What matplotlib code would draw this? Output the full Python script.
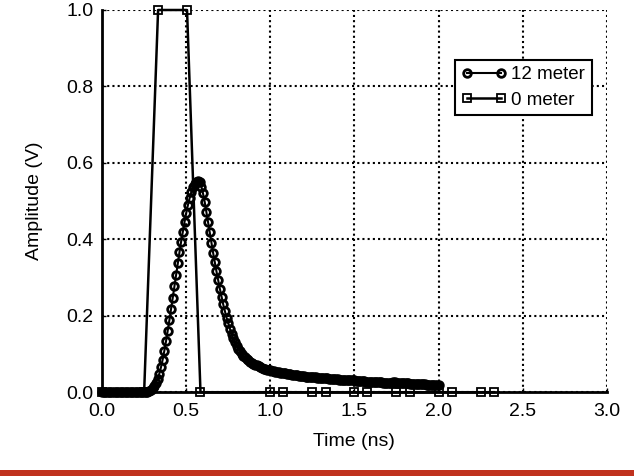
import matplotlib.pyplot as plt
import numpy as np
from matplotlib.patches import Rectangle

plt.rcParams['font.family'] = ['Liberation Sans', 'DejaVu Sans']

# 12 meter, sampled every 0.01 ns from 0 to 2.0 ns
t_12m = np.round(np.arange(201) * 0.01, 2)
v_12m = [0.0] * 25 + [
    0.000, 0.000, 0.001, 0.003, 0.006, 0.010, 0.016, 0.024, 0.034, 0.048,   # 0.25-0.34
    0.065, 0.085, 0.108, 0.133, 0.160, 0.188, 0.217, 0.247, 0.277, 0.307,   # 0.35-0.44
    0.337, 0.366, 0.394, 0.420, 0.445, 0.468, 0.489, 0.507, 0.523, 0.536,   # 0.45-0.54
    0.545, 0.551, 0.553, 0.549, 0.538, 0.520, 0.498, 0.472, 0.445, 0.418,   # 0.55-0.64
    0.391, 0.365, 0.340, 0.316, 0.293, 0.271, 0.250, 0.230, 0.212, 0.195,   # 0.65-0.74
    0.180, 0.166, 0.153, 0.141, 0.131, 0.122, 0.114, 0.107, 0.101, 0.096,   # 0.75-0.84
    0.091, 0.087, 0.083, 0.080, 0.077, 0.075, 0.072, 0.070, 0.068, 0.066,   # 0.85-0.94
    0.064, 0.062, 0.061, 0.059, 0.058, 0.057, 0.056, 0.055, 0.054, 0.053,   # 0.95-1.04
    0.052, 0.051, 0.050, 0.050, 0.049, 0.048, 0.047, 0.047, 0.046, 0.045,   # 1.05-1.14
    0.045, 0.044, 0.043, 0.043, 0.042, 0.042, 0.041, 0.041, 0.040, 0.040,   # 1.15-1.24
    0.040, 0.039, 0.039, 0.038, 0.038, 0.037, 0.037, 0.037, 0.036, 0.036,   # 1.25-1.34
    0.035, 0.035, 0.035, 0.034, 0.034, 0.034, 0.033, 0.033, 0.033, 0.032,   # 1.35-1.44
    0.032, 0.032, 0.031, 0.031, 0.031, 0.031, 0.030, 0.030, 0.030, 0.029,   # 1.45-1.54
    0.029, 0.029, 0.028, 0.028, 0.028, 0.027, 0.027, 0.027, 0.026, 0.026,   # 1.55-1.64
    0.026, 0.026, 0.025, 0.025, 0.025, 0.025, 0.025, 0.025, 0.026, 0.026,   # 1.65-1.74
    0.025, 0.025, 0.024, 0.024, 0.023, 0.023, 0.023, 0.023, 0.022, 0.022,   # 1.75-1.84
    0.022, 0.022, 0.022, 0.021, 0.021, 0.021, 0.021, 0.021, 0.020, 0.020,   # 1.85-1.94
    0.020, 0.020, 0.020, 0.020, 0.019, 0.019,                               # 1.95-2.00
]

# 0 meter
t_0m = [0.0, 0.25, 0.333, 0.505, 0.585, 1.0, 1.075, 1.25, 1.33, 1.5, 1.575,
        1.75, 1.83, 2.0, 2.08, 2.25, 2.33]
v_0m = [0.0, 0.0, 1.0, 1.0, 0.0, 0.0, 0.0, 0.0, 0.0, 0.0, 0.0,
        0.0, 0.0, 0.0, 0.0, 0.0, 0.0]

fig = plt.figure(figsize=(6.34, 4.76), dpi=100)
ax = fig.add_axes([0.161, 0.176, 0.796, 0.803])

ax.plot(t_12m, v_12m, 'k-', lw=1.5, marker='o', ms=5.5, mfc='none', mec='k', mew=2.0,
        label='12 meter', clip_on=False, zorder=3)
ax.plot(t_0m, v_0m, 'k-', lw=1.8, marker='s', ms=5.5, mfc='none', mec='k', mew=1.3,
        label='0 meter', clip_on=False, zorder=4)

ax.set_xlim(0, 3)
ax.set_ylim(0, 1)
ax.set_xticks([0, 0.5, 1.0, 1.5, 2.0, 2.5, 3.0])
ax.set_yticks([0, 0.2, 0.4, 0.6, 0.8, 1.0])
ax.xaxis.set_major_formatter(plt.FormatStrFormatter('%.1f'))
ax.yaxis.set_major_formatter(plt.FormatStrFormatter('%.1f'))
ax.tick_params(direction='in', length=3, width=1, labelsize=14, pad=6)
ax.tick_params(axis='x', pad=8)
ax.grid(True, color='k', linestyle=(0, (1, 1.5)), linewidth=1.5)
for s in ['top', 'right']:
    ax.spines[s].set_visible(False)
for s in ['left', 'bottom']:
    ax.spines[s].set_linewidth(2)

ax.set_xlabel('Time (ns)', fontsize=14, labelpad=9)
ax.set_ylabel('Amplitude (V)', fontsize=14, labelpad=17)

leg = ax.legend(loc='upper right', bbox_to_anchor=(0.97, 0.87), fontsize=13.5, numpoints=2,
                handlelength=2.4, fancybox=False, framealpha=1, edgecolor='k',
                borderpad=0.35, labelspacing=0.45, handletextpad=0.25, borderaxespad=0)
leg.get_frame().set_linewidth(1.5)

fig.add_artist(Rectangle((0, 0), 1, 6 / 476, transform=fig.transFigure,
                         color='#c0321e', lw=0))

fig.savefig('out.png', dpi=100)
